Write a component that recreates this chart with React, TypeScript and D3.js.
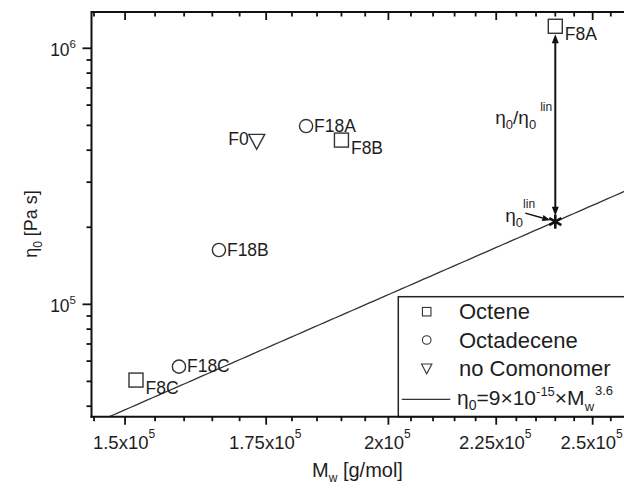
import React from "react";
import * as d3 from "d3";

// ---- data ----
const sampleNames = ["F8A", "F8B", "F8C", "F18A", "F18B", "F18C", "F0", ""];
const sampleTypes = ["Octene", "Octene", "Octene", "Octadecene", "Octadecene", "Octadecene", "none", "Octadecene"];
const sampleMw = [2.4e5, 1.9e5, 1.518e5, 1.828e5, 1.662e5, 1.591e5, 1.732e5, 2.618e5];
const sampleEta = [1.219e6, 4.38e5, 5.06e4, 4.97e5, 1.63e5, 5.71e4, 4.33e5, 1.0e6];

const legendLabels = ["Octene", "Octadecene", "no Comonomer"];
const legendTypes = ["Octene", "Octadecene", "none"];

const fitPrefactor = 9e-15;
const fitExponent = 3.6;
const starMw = 2.4e5;

const xMajorTicks = [1.5e5, 1.75e5, 2.0e5, 2.25e5, 2.5e5];
const xMajorLabels = ["1.5x10", "1.75x10", "2x10", "2.25x10", "2.5x10"];
const xLabelExp = "5";
const xMinorTicks = [1.45e5, 1.55e5, 1.6e5, 1.65e5, 1.7e5, 1.8e5, 1.85e5, 1.9e5, 1.95e5, 2.05e5, 2.1e5, 2.15e5, 2.2e5, 2.3e5, 2.35e5, 2.4e5, 2.45e5, 2.55e5, 2.6e5];
const yMajorTicks = [1e5, 1e6];
const yMajorExps = ["5", "6"];
const yMinorTicks = [4e4, 5e4, 6e4, 7e4, 8e4, 9e4, 2e5, 3e5, 4e5, 5e5, 6e5, 7e5, 8e5, 9e5];

const X_DOMAIN = [1.446e5, 2.65e5];
const Y_DOMAIN = [3.64e4, 1.386e6];

// ---- layout ----
const W = 624, H = 490;
const L = 91.5, T = 12, R = 646, B = 416.7;
const FONT = "'Liberation Sans', Arial, Helvetica, sans-serif";
const INK = "#1e1e1e";
const MK = "#333";

function Marker({ type, cx, cy, big }: { type: string; cx: number; cy: number; big: boolean }) {
  const sw = big ? 1.4 : 1.1;
  if (type === "Octene") {
    const s = big ? 14 : 8.5;
    return <rect x={cx - s / 2} y={cy - s / 2} width={s} height={s} fill="none" stroke={MK} strokeWidth={sw} />;
  }
  if (type === "Octadecene") {
    const r = big ? 6.6 : 4.3;
    return <circle cx={cx} cy={cy} r={r} fill="none" stroke={MK} strokeWidth={sw} />;
  }
  const hw = big ? 8 : 5.2;
  const up = big ? 7 : 4.3;
  const dn = big ? 8 : 5.5;
  return (
    <path
      d={`M${cx - hw},${cy - up}L${cx + hw},${cy - up}L${cx},${cy + dn}Z`}
      fill="none"
      stroke={MK}
      strokeWidth={sw}
    />
  );
}

export default function App() {
  const x = d3.scaleLog().domain(X_DOMAIN).range([L, R]);
  const y = d3.scaleLog().domain(Y_DOMAIN).range([B, T]);

  const fit = (m: number) => fitPrefactor * Math.pow(m, fitExponent);
  const fitPts = d3.range(0, 101).map((i) => {
    const m = X_DOMAIN[0] * Math.pow(X_DOMAIN[1] / X_DOMAIN[0], i / 100);
    return [m, fit(m)] as [number, number];
  });
  const linePath = d3
    .line<[number, number]>()
    .x((d) => x(d[0]))
    .y((d) => y(d[1]))(fitPts) as string;

  const sx = x(starMw);
  const sy = y(fit(starMw));
  const topY = y(sampleEta[0]);

  const aTop = topY + 8;
  const aBot = sy - 6;
  const ah = 9, aw = 3.5;

  const s0 = [sx - 30, sy - 8.5];
  const s1 = [sx - 5, sy - 1.5];
  const ang = Math.atan2(s1[1] - s0[1], s1[0] - s0[0]);
  const hl = 8, hwid = 3.2;
  const hb = [s1[0] - hl * Math.cos(ang), s1[1] - hl * Math.sin(ang)];
  const px = -Math.sin(ang), py = Math.cos(ang);

  const starR = 7;
  const starAngles = [90, 30, 150];

  const legX = 398.3, legTop = 296.7;
  const legRowY = [311.7, 340, 368.3, 399.3];
  const legSymX = 426.7;
  const legTextX = 459;

  return (
    <svg
      width={W}
      height={H}
      style={{ position: "absolute", left: 0, top: 0, background: "#fff" }}
      fontFamily={FONT}
    >
      <defs>
        <clipPath id="plotclip">
          <rect x={L} y={T} width={R - L} height={B - T} />
        </clipPath>
      </defs>
      <rect x={0} y={0} width={W} height={H} fill="#fff" />

      <path d={linePath} fill="none" stroke="#333" strokeWidth={1.3} clipPath="url(#plotclip)" />

      {sampleMw.map((m, i) => {
        const cx = x(m);
        const cy = y(sampleEta[i]);
        const t = sampleTypes[i];
        let lx = cx + 8, ly = cy + 5.5, anchor: "start" | "end" = "start";
        if (t === "Octene") { lx = cx + 9.5; ly = cy + 13.5; }
        if (t === "none") { lx = cx - 8; ly = cy + 3.5; anchor = "end"; }
        return (
          <g key={i}>
            <Marker type={t} cx={cx} cy={cy} big={true} />
            {sampleNames[i] && (
              <text x={lx} y={ly} fontSize={17.5} fill={INK} textAnchor={anchor}>
                {sampleNames[i]}
              </text>
            )}
          </g>
        );
      })}

      <line x1={sx} y1={aTop + ah - 1} x2={sx} y2={aBot - ah + 1} stroke="#111" strokeWidth={2} />
      <path d={`M${sx},${aTop}L${sx - aw},${aTop + ah}L${sx + aw},${aTop + ah}Z`} fill="#111" />
      <path d={`M${sx},${aBot}L${sx - aw},${aBot - ah}L${sx + aw},${aBot - ah}Z`} fill="#111" />

      {starAngles.map((a, i) => {
        const r = (a * Math.PI) / 180;
        return (
          <line
            key={i}
            x1={sx - starR * Math.cos(r)}
            y1={sy - starR * Math.sin(r)}
            x2={sx + starR * Math.cos(r)}
            y2={sy + starR * Math.sin(r)}
            stroke="#111"
            strokeWidth={2.6}
          />
        );
      })}

      <line x1={s0[0]} y1={s0[1]} x2={hb[0]} y2={hb[1]} stroke="#111" strokeWidth={1.5} />
      <path
        d={`M${s1[0]},${s1[1]}L${hb[0] + px * hwid},${hb[1] + py * hwid}L${hb[0] - px * hwid},${hb[1] - py * hwid}Z`}
        fill="#111"
      />

      <text x={sx - 60} y={123.5} fontSize={19} fill={INK}>
        <tspan>η</tspan>
        <tspan fontSize={13} dy={5}>0</tspan>
        <tspan dy={-5}>/η</tspan>
        <tspan fontSize={13} dy={5}>0</tspan>
        <tspan fontSize={12} dy={-18} dx={4}>lin</tspan>
      </text>
      <text x={sx - 50} y={sy + 0.5} fontSize={19} fill={INK}>
        <tspan>η</tspan>
        <tspan fontSize={13} dy={5}>0</tspan>
        <tspan fontSize={12} dy={-19} dx={0}>lin</tspan>
      </text>

      <rect x={legX} y={legTop} width={R - legX} height={B - legTop} fill="#fff" stroke="#222" strokeWidth={1.5} />
      {legendLabels.map((lab, i) => (
        <g key={i}>
          <Marker type={legendTypes[i]} cx={legSymX} cy={legRowY[i]} big={false} />
          <text x={legTextX} y={legRowY[i] + 7.5} fontSize={22} fill={INK}>
            {lab}
          </text>
        </g>
      ))}
      <line x1={legX + 3.5} y1={legRowY[3]} x2={legX + 52} y2={legRowY[3]} stroke="#333" strokeWidth={1.3} />
      <text x={legTextX - 2} y={legRowY[3] + 6} fontSize={21} fill={INK}>
        <tspan>η</tspan>
        <tspan fontSize={14} dy={5}>0</tspan>
        <tspan dy={-5}>=9×10</tspan>
        <tspan fontSize={13} dy={-9}>-15</tspan>
        <tspan dy={9}>×M</tspan>
        <tspan fontSize={13} dy={6}>w</tspan>
        <tspan fontSize={13} dy={-16} dx={1}>3.6</tspan>
      </text>

      <g stroke="#111" strokeWidth={2} fill="none">
        <line x1={L} y1={T} x2={R} y2={T} />
        <line x1={L} y1={T - 1} x2={L} y2={B + 1} />
        <line x1={L - 1} y1={B} x2={R} y2={B} />
      </g>
      <g stroke="#111" strokeWidth={1.8}>
        {xMajorTicks.map((v, i) => (
          <g key={"xm" + i}>
            <line x1={x(v)} x2={x(v)} y1={B} y2={B + 8} />
            <line x1={x(v)} x2={x(v)} y1={T} y2={T + 8} />
          </g>
        ))}
        {xMinorTicks.map((v, i) => (
          <g key={"xn" + i}>
            <line x1={x(v)} x2={x(v)} y1={B} y2={B + 4.5} />
            <line x1={x(v)} x2={x(v)} y1={T} y2={T + 4.5} />
          </g>
        ))}
        {yMajorTicks.map((v, i) => (
          <line key={"ym" + i} x1={L - 9} x2={L} y1={y(v)} y2={y(v)} />
        ))}
        {yMinorTicks.map((v, i) => (
          <line key={"yn" + i} x1={L - 5} x2={L} y1={y(v)} y2={y(v)} />
        ))}
      </g>
      {xMajorTicks.map((v, i) => (
        <text key={"xl" + i} x={x(v) - 1} y={448.5} fontSize={18.5} fill={INK} textAnchor="middle">
          <tspan>{xMajorLabels[i]}</tspan>
          <tspan fontSize={12} dy={-10.5}>{xLabelExp}</tspan>
        </text>
      ))}
      {yMajorTicks.map((v, i) => (
        <text key={"yl" + i} x={76} y={y(v) + 8} fontSize={17.5} fill={INK} textAnchor="end">
          <tspan>10</tspan>
          <tspan fontSize={11.5} dy={-8}>{yMajorExps[i]}</tspan>
        </text>
      ))}

      <text x={312} y={476.7} fontSize={20} fill={INK}>
        <tspan>M</tspan>
        <tspan fontSize={12} dy={5}>w</tspan>
        <tspan dy={-5}> [g/mol]</tspan>
      </text>
      <text transform="translate(37,224) rotate(-90)" fontSize={18} fill={INK} textAnchor="middle">
        <tspan>η</tspan>
        <tspan fontSize={12} dy={5}>0</tspan>
        <tspan dy={-5}> [Pa s]</tspan>
      </text>
    </svg>
  );
}
